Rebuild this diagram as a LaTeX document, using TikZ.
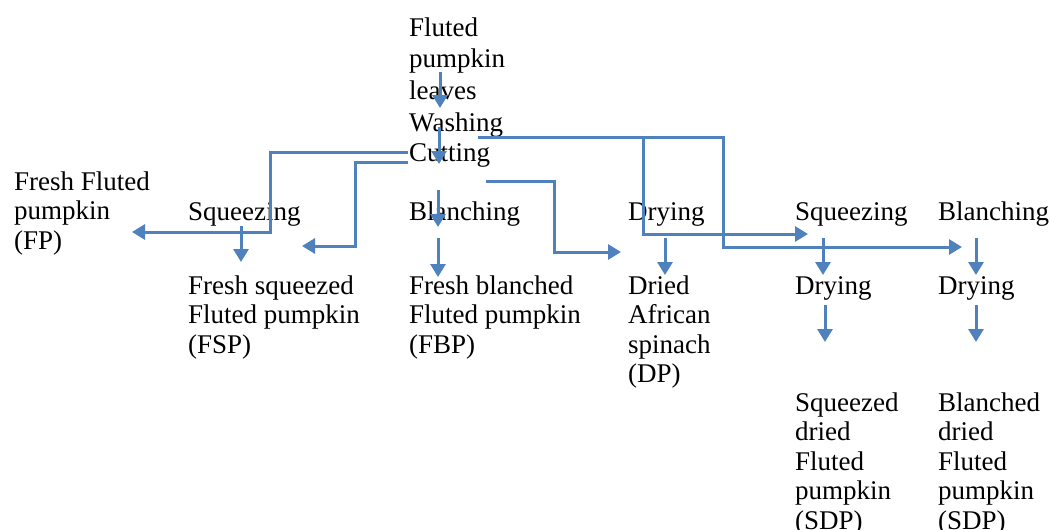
\documentclass[tikz,border=0pt]{standalone}
\usepackage{fontspec}
\setmainfont{Liberation Serif}
\usetikzlibrary{arrows.meta}
\definecolor{flowblue}{HTML}{4F81BD}

\begin{document}
\begin{tikzpicture}[x=1pt, y=-1pt,
    lbl/.style={anchor=base west, inner sep=0pt, align=left,
                font=\fontsize{27}{29.5}\selectfont},
    flow/.style={draw=flowblue, line width=3pt,
                 -{Triangle[width=15pt,length=13pt]}},
    link/.style={draw=flowblue, line width=3pt}]

    \useasboundingbox (0,0) rectangle (1050,530);

    % process stages (placed at the baseline of their last line)
    \node[lbl, font=\fontsize{27}{31.5}\selectfont] (leaves) at (409,99) {Fluted\\pumpkin\\leaves};
    \node[lbl] (wash) at (409,131) {Washing};
    \node[lbl] (cut) at (409,161) {Cutting};

    \node[lbl] (fp) at (14,249) {Fresh Fluted\\pumpkin\\(FP)};
    \node[lbl] (sq1) at (188,220) {Squeezing};
    \node[lbl] (bl1) at (409,220) {Blanching};
    \node[lbl] (dr1) at (628,220) {Drying};
    \node[lbl] (sq2) at (795,220) {Squeezing};
    \node[lbl] (bl2) at (938,220) {Blanching};

    \node[lbl] (fsp) at (188,353) {Fresh squeezed\\Fluted pumpkin\\(FSP)};
    \node[lbl] (fbp) at (409,353) {Fresh blanched\\Fluted pumpkin\\(FBP)};
    \node[lbl] (dp) at (628,382.5) {Dried\\African\\spinach\\(DP)};
    \node[lbl] (dr2) at (795,294) {Drying};
    \node[lbl] (dr3) at (938,294) {Drying};

    \node[lbl] (sdp) at (795,529) {Squeezed\\dried\\Fluted\\pumpkin\\(SDP)};
    \node[lbl] (bdp) at (938,529) {Blanched\\dried\\Fluted\\pumpkin\\(SDP)};

    % arrow ends
    \coordinate (leaves-o) at (440,72);  \coordinate (wash-i) at (440,108);
    \coordinate (wash-o) at (439,127);   \coordinate (cut-i) at (439,164);
    \coordinate (cut-l1) at (408,152);   \coordinate (fp-i) at (132,232);
    \coordinate (cut-l2) at (408,162);   \coordinate (sq1-i) at (302,246);
    \coordinate (wash-r) at (478,137);   \coordinate (sq2-i) at (808,234);
    \coordinate (wash-k) at (643,137);   \coordinate (bl2-i) at (962,247);
    \coordinate (cut-r) at (486,181);    \coordinate (dr1-i) at (621,252);
    \coordinate (sq1-o) at (241,226);    \coordinate (fsp-i) at (241,262);
    \coordinate (cut-o) at (438,190);    \coordinate (bl1-i) at (438,227);
    \coordinate (bl1-o) at (438,238);    \coordinate (fbp-i) at (438,277);
    \coordinate (dr1-o) at (665,238);    \coordinate (dp-i) at (665,275);
    \coordinate (sq2-o) at (823,238);    \coordinate (dr2-i) at (823,275);
    \coordinate (bl2-o) at (976,238);    \coordinate (dr3-i) at (976,275);
    \coordinate (dr2-o) at (825,305);    \coordinate (sdp-i) at (825,342);
    \coordinate (dr3-o) at (976,305);    \coordinate (bdp-i) at (976,342);

    % straight arrows
    \draw[flow] (leaves-o) -- (wash-i);
    \draw[flow] (wash-o) -- (cut-i);
    \draw[flow] (sq1-o) -- (fsp-i);
    \draw[flow] (cut-o) -- (bl1-i);
    \draw[flow] (bl1-o) -- (fbp-i);
    \draw[flow] (dr1-o) -- (dp-i);
    \draw[flow] (sq2-o) -- (dr2-i);
    \draw[flow] (bl2-o) -- (dr3-i);
    \draw[flow] (dr2-o) -- (sdp-i);
    \draw[flow] (dr3-o) -- (bdp-i);

    % elbow arrows
    \draw[flow] (cut-l1) -- (270,152) -- (270,232) -- (fp-i);
    \draw[flow] (cut-l2) -- (355,162) -- (355,246) -- (sq1-i);
    \draw[flow] (cut-r) -- (554,181) -- (554,252) -- (dr1-i);
    \draw[link] (wash-r) -- (wash-k);
    \draw[flow] (wash-k) -- (643,234) -- (sq2-i);
    \draw[flow] (wash-k) -- (723,137) -- (723,247) -- (bl2-i);
\end{tikzpicture}
\end{document}
